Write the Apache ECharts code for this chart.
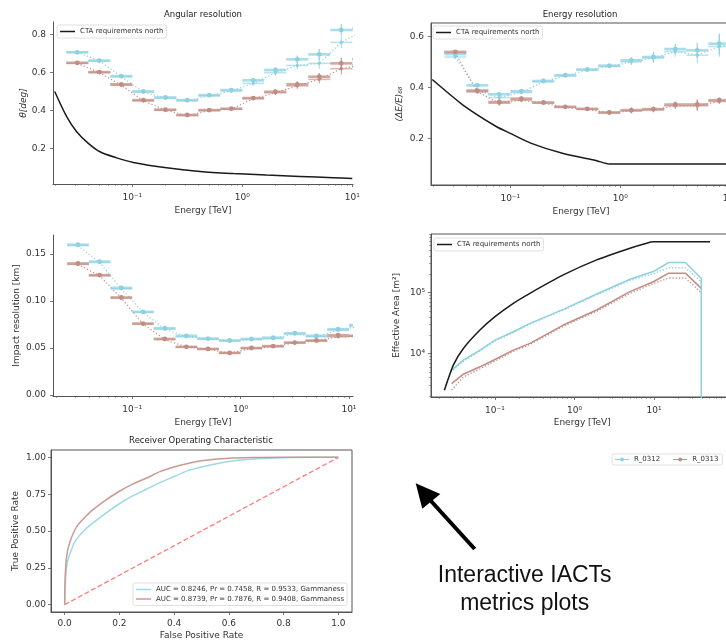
<!DOCTYPE html>
<html>
<head>
<meta charset="utf-8">
<script src="https://cdn.jsdelivr.net/npm/echarts@6/dist/echarts.min.js"></script>
<style>
  html, body { margin: 0; padding: 0; background: #fff; }
  #main { width: 726px; height: 641px; }
</style>
</head>
<body>
<div id="main"></div>
<script>
// ---------- energy binning shared by the resolution panels (TeV) ----------
const energyCenters = [0.0316, 0.0501, 0.0794, 0.126, 0.2, 0.316, 0.501, 0.794, 1.26, 2.0, 3.16, 5.01, 7.94, 12.6];
const binLow  = [0.0251, 0.0398, 0.0631, 0.1, 0.158, 0.251, 0.398, 0.631, 1.0, 1.58, 2.51, 3.98, 6.31, 10.0];
const binHigh = [0.0398, 0.0631, 0.1, 0.158, 0.251, 0.398, 0.631, 1.0, 1.58, 2.51, 3.98, 6.31, 10.0, 15.8];

// ---------- angular resolution (deg) ----------
const ang312    = [0.706, 0.662, 0.581, 0.501, 0.469, 0.455, 0.481, 0.508, 0.559, 0.613, 0.669, 0.695, 0.823, 0.83];
const ang312Dot = [0.706, 0.662, 0.578, 0.497, 0.466, 0.452, 0.478, 0.503, 0.543, 0.599, 0.637, 0.648, 0.758, 0.82];
const angErr312 = [0.005, 0.005, 0.006, 0.006, 0.005, 0.005, 0.006, 0.008, 0.012, 0.015, 0.02, 0.028, 0.03, 0.03];
const ang313    = [0.651, 0.602, 0.538, 0.455, 0.405, 0.377, 0.403, 0.410, 0.466, 0.499, 0.538, 0.578, 0.648, 0.67];
const ang313Dot = [0.648, 0.600, 0.533, 0.452, 0.402, 0.375, 0.400, 0.408, 0.463, 0.494, 0.530, 0.564, 0.620, 0.64];
const angErr313 = [0.005, 0.005, 0.006, 0.008, 0.005, 0.005, 0.006, 0.007, 0.008, 0.012, 0.016, 0.02, 0.03, 0.03];
const ctaAngE = [0.0197, 0.0253, 0.0312, 0.0398, 0.0508, 0.072, 0.102, 0.205, 0.412, 0.828, 1.66, 3.34, 6.71, 10.0];
const ctaAng  = [0.50, 0.368, 0.289, 0.228, 0.184, 0.152, 0.128, 0.100, 0.081, 0.070, 0.062, 0.055, 0.048, 0.044];

// ---------- energy resolution (dE/E)68 ----------
const eres312    = [0.530, 0.408, 0.373, 0.385, 0.425, 0.448, 0.470, 0.485, 0.506, 0.519, 0.550, 0.545, 0.571, 0.59];
const eres312Dot = [0.519, 0.389, 0.360, 0.380, 0.422, 0.445, 0.468, 0.482, 0.500, 0.515, 0.540, 0.526, 0.560, 0.58];
const eresErr312 = [0.008, 0.006, 0.008, 0.005, 0.005, 0.005, 0.006, 0.007, 0.012, 0.02, 0.02, 0.03, 0.04, 0.04];
const eres313    = [0.539, 0.387, 0.343, 0.356, 0.341, 0.324, 0.316, 0.302, 0.311, 0.315, 0.333, 0.333, 0.350, 0.36];
const eres313Dot = [0.535, 0.382, 0.338, 0.350, 0.338, 0.322, 0.314, 0.300, 0.308, 0.312, 0.328, 0.328, 0.345, 0.355];
const eresErr313 = [0.006, 0.006, 0.01, 0.008, 0.006, 0.005, 0.005, 0.007, 0.01, 0.01, 0.012, 0.02, 0.01, 0.01];
const ctaEresE = [0.0195, 0.0374, 0.0751, 0.1, 0.151, 0.303, 0.61, 0.794, 12.0];
const ctaEres  = [0.431, 0.330, 0.246, 0.220, 0.183, 0.141, 0.113, 0.100, 0.100];

// ---------- impact resolution (km) ----------
const imp312    = [0.160, 0.142, 0.114, 0.0885, 0.071, 0.063, 0.060, 0.058, 0.0597, 0.061, 0.0657, 0.063, 0.070, 0.0745];
const imp312Dot = [0.159, 0.141, 0.113, 0.088, 0.070, 0.062, 0.0595, 0.0575, 0.059, 0.060, 0.065, 0.062, 0.069, 0.073];
const impErr312 = [0.0015, 0.0012, 0.0012, 0.001, 0.001, 0.0008, 0.0008, 0.0008, 0.001, 0.001, 0.0012, 0.0012, 0.0015, 0.002];
const imp313    = [0.140, 0.1276, 0.1038, 0.076, 0.0597, 0.0512, 0.049, 0.0448, 0.050, 0.052, 0.0558, 0.058, 0.0636, 0.063];
const imp313Dot = [0.139, 0.127, 0.103, 0.0755, 0.059, 0.051, 0.0487, 0.0445, 0.0495, 0.0515, 0.0555, 0.0575, 0.062, 0.0625];
const impErr313 = [0.0015, 0.0012, 0.0012, 0.001, 0.001, 0.0008, 0.0008, 0.0008, 0.001, 0.001, 0.0012, 0.0012, 0.0015, 0.002];

// ---------- effective area (m^2) ----------
const ctaAreaE = [0.0231, 0.0299, 0.040, 0.0647, 0.1, 0.170, 0.275, 0.724, 1.90, 4.99, 8.09, 9.82, 50.6];
const ctaArea  = [2490, 6430, 12080, 24270, 40180, 66700, 97500, 195400, 345000, 538000, 650000, 684000, 684000];
const areaE312    = [0.0277, 0.040, 0.0647, 0.1, 0.170, 0.275, 0.724, 1.90, 4.99, 9.82, 15.3, 24.8, 39.3, 39.3];
const area312     = [5180, 7760, 11350, 16600, 22750, 31260, 53090, 95060, 166000, 221800, 312600, 312600, 172200, 100];
const area312Dot  = [4900, 7400, 10900, 16000, 22000, 30300, 51500, 91500, 158000, 205000, 257000, 257000, 151000];
const areaE313    = [0.0285, 0.040, 0.0647, 0.1, 0.170, 0.275, 0.724, 1.90, 4.99, 9.82, 15.3, 24.8, 39.3];
const area313     = [3200, 4560, 6030, 7960, 11350, 14620, 29300, 51800, 103700, 151000, 209000, 209000, 117500];
const area313Dot  = [2500, 4100, 5600, 7500, 10800, 14000, 28000, 49500, 97000, 141000, 174000, 174000, 100000];

// ---------- ROC ----------
const rocFpr    = [0, 0.001, 0.005, 0.01, 0.02, 0.035, 0.05, 0.075, 0.1, 0.15, 0.2, 0.25, 0.3, 0.35, 0.4, 0.45, 0.5, 0.6, 0.7, 0.8, 0.9, 1.0];
const rocTpr312 = [0, 0.10, 0.22, 0.29, 0.35, 0.42, 0.46, 0.51, 0.55, 0.62, 0.685, 0.74, 0.785, 0.83, 0.87, 0.91, 0.935, 0.972, 0.99, 0.998, 1.0, 1.0];
const rocTpr313 = [0, 0.15, 0.29, 0.36, 0.43, 0.50, 0.545, 0.595, 0.64, 0.71, 0.77, 0.82, 0.86, 0.905, 0.935, 0.958, 0.977, 0.994, 0.999, 1.0, 1.0, 1.0];
const chanceX = [0, 1];
const chanceY = [0, 1];
const rocLabel312 = 'AUC = 0.8246, Pr = 0.7458, R = 0.9533, Gammaness';
const rocLabel313 = 'AUC = 0.8739, Pr = 0.7876, R = 0.9408, Gammaness';

// ---------- tick positions ----------
const energyTicks = [0.1, 1, 10];
const areaTicks = [1e4, 1e5];
const angTicks = [0.2, 0.4, 0.6, 0.8];
const eresTicks = [0.2, 0.4, 0.6];
const impTicks = [0, 0.05, 0.10, 0.15];
const rocXTicks = [0, 0.2, 0.4, 0.6, 0.8, 1.0];
const rocYTicks = [0, 0.25, 0.5, 0.75, 1.0];

// ---------- style ----------
const FONT = 'DejaVu Sans';
const INK = '#333';
const SPINE = '#555';
const C312 = '#8dd1e1';
const C313 = '#c18c83';
const CTA = 'CTA requirements north';

const SUP = {'-': '\u207b', '0': '\u2070', '1': '\u00b9', '2': '\u00b2', '3': '\u00b3', '4': '\u2074', '5': '\u2075', '6': '\u2076', '7': '\u2077', '8': '\u2078', '9': '\u2079'};
function powerLabel(v) {
  const e = String(Math.round(Math.log10(v)));
  return '10' + e.split('').map(ch => SUP[ch]).join('');
}

function axis(o) {
  return {
    type: o.type, gridIndex: o.grid, min: o.min, max: o.max, logBase: 10,
    name: o.name, nameLocation: 'middle', nameGap: o.nameGap, nameRotate: o.rotate || 0,
    nameMoveOverlap: false,
    nameTextStyle: {fontFamily: FONT, fontSize: 9, color: INK, fontStyle: o.italic ? 'italic' : 'normal'},
    axisLine: {show: true, onZero: false, lineStyle: {color: SPINE, width: 1}},
    axisTick: {show: true, length: 3, customValues: o.ticks, lineStyle: {color: SPINE, width: 0.8}},
    minorTick: {show: !!o.minor, splitNumber: 9, length: 1.8, lineStyle: {color: SPINE, width: 0.6}},
    axisLabel: {customValues: o.ticks, formatter: o.fmt, fontFamily: FONT, fontSize: 9, color: INK,
                margin: o.margin, hideOverlap: false},
    splitLine: {show: false}, minorSplitLine: {show: false}
  };
}

// error bar glyph: horizontal bin width, vertical uncertainty, optional dot
function errorBars(hWidth, hOpacity, vWidth, radius) {
  return function (params, api) {
    const cs = params.coordSys;
    const color = api.visual('color');
    const x = api.value(0), y = api.value(1);
    const c = api.coord([x, y]);
    const left = api.coord([api.value(2), y])[0];
    const right = api.coord([api.value(3), y])[0];
    const top = api.coord([x, y + api.value(4)])[1];
    const bottom = api.coord([x, y - api.value(4)])[1];
    const x0 = Math.max(left, cs.x), x1 = Math.min(right, cs.x + cs.width);
    const children = [];
    if (x1 > x0) {
      children.push({type: 'line', shape: {x1: x0, y1: c[1], x2: x1, y2: c[1]},
                     style: {stroke: color, lineWidth: hWidth, opacity: hOpacity}});
    }
    if (c[0] >= cs.x && c[0] <= cs.x + cs.width) {
      children.push({type: 'line', shape: {x1: c[0], y1: top, x2: c[0], y2: bottom},
                     style: {stroke: color, lineWidth: vWidth, opacity: 0.9}});
      if (radius > 0) {
        children.push({type: 'circle', shape: {cx: c[0], cy: c[1], r: radius}, style: {fill: color}});
      }
    }
    return {type: 'group', children: children};
  };
}

function binned(values, errs) {
  return energyCenters.map((e, i) => [e, values[i], binLow[i], binHigh[i], errs[i]]);
}
function pairs(xs, ys) {
  return ys.map((y, i) => [xs[i], y]);
}

const series = [];

// resolution panels: grid index -> runs
const resolutionPanels = [
  {grid: 0, runs: [
    {name: 'R_0312', color: C312, main: ang312, dot: ang312Dot, err: angErr312},
    {name: 'R_0313', color: C313, main: ang313, dot: ang313Dot, err: angErr313}]},
  {grid: 1, runs: [
    {name: 'R_0312', color: C312, main: eres312, dot: eres312Dot, err: eresErr312},
    {name: 'R_0313', color: C313, main: eres313, dot: eres313Dot, err: eresErr313}]},
  {grid: 2, runs: [
    {name: 'R_0312', color: C312, main: imp312, dot: imp312Dot, err: impErr312},
    {name: 'R_0313', color: C313, main: imp313, dot: imp313Dot, err: impErr313}]}
];

resolutionPanels.forEach(p => {
  p.runs.forEach(run => {
    series.push({
      type: 'line', name: run.name + ' dotted', xAxisIndex: p.grid, yAxisIndex: p.grid,
      data: pairs(energyCenters, run.dot), symbol: 'none', silent: true, z: 2,
      lineStyle: {color: run.color, width: 1.2, type: [1.2, 2.2]}
    });
    series.push({
      type: 'custom', name: run.name + ' dotted bins', xAxisIndex: p.grid, yAxisIndex: p.grid,
      renderItem: errorBars(1.6, 0.6, 1.0, 1.6), itemStyle: {color: run.color},
      encode: {x: 0, y: 1}, data: binned(run.dot, run.err), silent: true, z: 3
    });
    series.push({
      type: 'custom', name: run.name, xAxisIndex: p.grid, yAxisIndex: p.grid,
      renderItem: errorBars(2.6, 0.75, 1.3, 2.4), itemStyle: {color: run.color},
      encode: {x: 0, y: 1}, data: binned(run.main, run.err), silent: true, z: 4
    });
  });
});

// requirement curves
const ctaLine = {color: '#1a1a1a', width: 1.5};
series.push({type: 'line', name: CTA, xAxisIndex: 0, yAxisIndex: 0, data: pairs(ctaAngE, ctaAng),
             symbol: 'none', smooth: 0.3, lineStyle: ctaLine, itemStyle: {color: '#1a1a1a'}, z: 5});
series.push({type: 'line', name: CTA, xAxisIndex: 1, yAxisIndex: 1, data: pairs(ctaEresE, ctaEres),
             symbol: 'none', smooth: 0.2, lineStyle: ctaLine, itemStyle: {color: '#1a1a1a'}, z: 5});
series.push({type: 'line', name: CTA, xAxisIndex: 3, yAxisIndex: 3, data: pairs(ctaAreaE, ctaArea),
             symbol: 'none', smooth: 0.2, lineStyle: ctaLine, itemStyle: {color: '#1a1a1a'}, z: 5});

// effective areas
series.push({type: 'line', name: 'R_0312 area', xAxisIndex: 3, yAxisIndex: 3, data: pairs(areaE312, area312),
             symbol: 'none', lineStyle: {color: C312, width: 1.5}, z: 4});
series.push({type: 'line', name: 'R_0312 area dotted', xAxisIndex: 3, yAxisIndex: 3, data: pairs(areaE312, area312Dot),
             symbol: 'none', lineStyle: {color: C312, width: 1.4, type: [1.2, 2]}, z: 4});
series.push({type: 'line', name: 'R_0313 area', xAxisIndex: 3, yAxisIndex: 3, data: pairs(areaE313, area313),
             symbol: 'none', lineStyle: {color: C313, width: 1.5}, z: 3});
series.push({type: 'line', name: 'R_0313 area dotted', xAxisIndex: 3, yAxisIndex: 3, data: pairs(areaE313, area313Dot),
             symbol: 'none', lineStyle: {color: C313, width: 1.4, type: [1.2, 2]}, z: 3});

// ROC curves
series.push({type: 'line', name: rocLabel312, xAxisIndex: 4, yAxisIndex: 4, data: pairs(rocFpr, rocTpr312),
             symbol: 'none', smooth: 0.3, lineStyle: {color: '#9dd8e6', width: 1.5}, itemStyle: {color: '#9dd8e6'}, z: 4});
series.push({type: 'line', name: rocLabel313, xAxisIndex: 4, yAxisIndex: 4, data: pairs(rocFpr, rocTpr313),
             symbol: 'none', smooth: 0.3, lineStyle: {color: '#c99a92', width: 1.5}, itemStyle: {color: '#c99a92'}, z: 4});
series.push({type: 'line', name: 'chance', xAxisIndex: 4, yAxisIndex: 4, data: pairs(chanceX, chanceY),
             symbol: 'none', lineStyle: {color: '#ff7b7b', width: 1.3, type: [5, 2.5]}, z: 3});

const legendBox = {
  borderColor: '#d8d8d8', borderWidth: 0.8, borderRadius: 2, backgroundColor: 'rgba(255,255,255,0.85)',
  selectedMode: false, textStyle: {fontFamily: FONT, fontSize: 7, color: INK}
};
const RUN_ICON = 'path://M0,4.45H20V5.55H0Z M10,2.2A2.8,2.8 0 1 1 9.99,2.2Z';
const LINE_ICON = 'path://M0,0H20V2H0Z';

const option = {
  animation: false,
  backgroundColor: '#fff',
  grid: [
    {left: 53, top: 22, width: 300, height: 162, outerBoundsMode: 'none'},
    {left: 431, top: 23, width: 300, height: 162, show: true, borderColor: SPINE, borderWidth: 1, outerBoundsMode: 'none'},
    {left: 53, top: 235, width: 300, height: 161, outerBoundsMode: 'none'},
    {left: 431, top: 234, width: 302.5, height: 163, show: true, borderColor: SPINE, borderWidth: 1, outerBoundsMode: 'none'},
    {left: 51, top: 450, width: 301, height: 162, show: true, borderColor: SPINE, borderWidth: 1, outerBoundsMode: 'none'}
  ],
  xAxis: [
    axis({type: 'log', grid: 0, min: 0.019, max: 10.15, ticks: energyTicks, fmt: powerLabel, minor: true,
          name: 'Energy [TeV]', nameGap: 22, margin: 9}),
    axis({type: 'log', grid: 1, min: 0.019, max: 10.15, ticks: energyTicks, fmt: powerLabel, minor: true,
          name: 'Energy [TeV]', nameGap: 22, margin: 9}),
    axis({type: 'log', grid: 2, min: 0.0186, max: 10.9, ticks: energyTicks, fmt: powerLabel, minor: true,
          name: 'Energy [TeV]', nameGap: 22, margin: 9}),
    axis({type: 'log', grid: 3, min: 0.01567, max: 100, ticks: energyTicks, fmt: powerLabel, minor: true,
          name: 'Energy [TeV]', nameGap: 21, margin: 9}),
    axis({type: 'value', grid: 4, min: -0.05, max: 1.05, ticks: rocXTicks, fmt: v => v.toFixed(1),
          name: 'False Positive Rate', nameGap: 19, margin: 7})
  ],
  yAxis: [
    axis({type: 'value', grid: 0, min: 0.015, max: 0.865, ticks: angTicks, fmt: v => v.toFixed(1),
          name: '\u03b8[deg]', italic: true, rotate: 90, nameGap: 25, margin: 7}),
    axis({type: 'value', grid: 1, min: 0.018, max: 0.652, ticks: eresTicks, fmt: v => v.toFixed(1),
          name: '(\u0394E/E)\u2086\u2088', italic: true, rotate: 90, nameGap: 27, margin: 7}),
    axis({type: 'value', grid: 2, min: -0.0011, max: 0.1703, ticks: impTicks, fmt: v => v.toFixed(2),
          name: 'Impact resolution [km]', rotate: 90, nameGap: 32, margin: 7}),
    axis({type: 'log', grid: 3, min: 1923, max: 920000, ticks: areaTicks, fmt: powerLabel, minor: true,
          name: 'Effective Area [m\u00b2]', rotate: 90, nameGap: 30, margin: 6}),
    axis({type: 'value', grid: 4, min: -0.05, max: 1.05, ticks: rocYTicks, fmt: v => v.toFixed(2),
          name: 'True Positive Rate', rotate: 90, nameGap: 31, margin: 5})
  ],
  legend: [
    Object.assign({data: [{name: CTA, icon: LINE_ICON}], left: 57, top: 25, itemWidth: 15, itemHeight: 8, padding: 3}, legendBox),
    Object.assign({data: [{name: CTA, icon: LINE_ICON}], left: 433, top: 26, itemWidth: 15, itemHeight: 7, padding: 3}, legendBox),
    Object.assign({data: [{name: CTA, icon: LINE_ICON}], left: 434, top: 238, itemWidth: 15, itemHeight: 7, padding: 3}, legendBox),
    Object.assign({data: [{name: 'R_0312', icon: RUN_ICON}, {name: 'R_0313', icon: RUN_ICON}],
                   left: 612, top: 454, itemWidth: 14, itemHeight: 6, itemGap: 13, padding: [2, 4, 2, 3]}, legendBox),
    Object.assign({data: [{name: rocLabel312, icon: LINE_ICON}, {name: rocLabel313, icon: LINE_ICON}], orient: 'vertical', left: 133, top: 583,
                   itemWidth: 15, itemHeight: 8, itemGap: 2.5, padding: 3}, legendBox)
  ],
  graphic: {elements: [
    {type: 'text', x: 203, y: 15, style: {text: 'Angular resolution', fontFamily: FONT, fontSize: 8.5, fill: '#222', align: 'center', verticalAlign: 'middle'}},
    {type: 'text', x: 580, y: 15, style: {text: 'Energy resolution', fontFamily: FONT, fontSize: 8.5, fill: '#222', align: 'center', verticalAlign: 'middle'}},
    {type: 'text', x: 201, y: 441, style: {text: 'Receiver Operating Characteristic', fontFamily: FONT, fontSize: 8.5, fill: '#222', align: 'center', verticalAlign: 'middle'}},
    {type: 'line', shape: {x1: 431, y1: 501, x2: 474.7, y2: 549}, style: {stroke: '#000', lineWidth: 4}},
    {type: 'polygon', shape: {points: [[415.7, 483.3], [440.3, 494], [422.3, 508.7]]}, style: {fill: '#000'}},
    {type: 'text', x: 524.7, y: 576, style: {text: 'Interactive IACTs', fontFamily: 'Liberation Sans', fontSize: 23, fill: '#111', align: 'center', verticalAlign: 'middle'}},
    {type: 'text', x: 524.7, y: 603.5, style: {text: 'metrics plots', fontFamily: 'Liberation Sans', fontSize: 23, fill: '#111', align: 'center', verticalAlign: 'middle'}}
  ]},
  series: series
};

const chart = echarts.init(document.getElementById('main'), null, {renderer: 'canvas'});
chart.setOption(option);
</script>
</body>
</html>
